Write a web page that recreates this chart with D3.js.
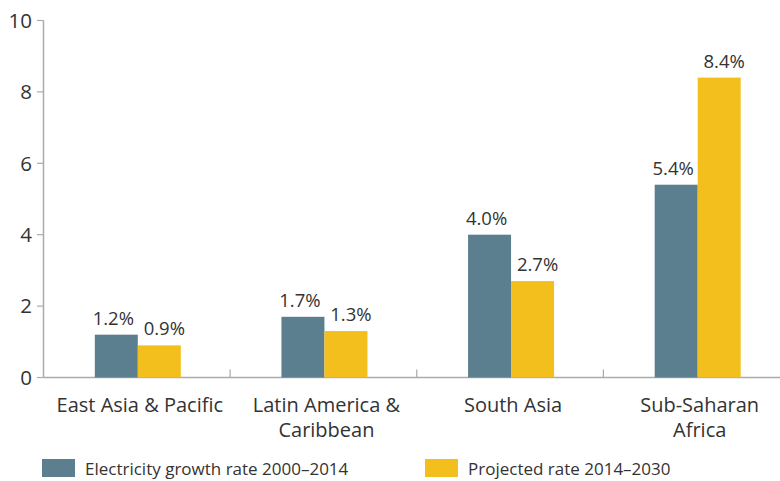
<!DOCTYPE html>
<html><head><meta charset="utf-8">
<script src="https://cdn.jsdelivr.net/npm/d3@7"></script>
<style>body{margin:0;background:#fff;} text{font-family:"Open Sans",Lato,sans-serif;fill:#333;}</style>
</head><body>
<svg id="c" width="780" height="481"></svg>
<script>
const categories = [["East Asia & Pacific"], ["Latin America &", "Caribbean"], ["South Asia"], ["Sub-Saharan", "Africa"]];
const seriesNames = ["Electricity growth rate 2000\u20132014", "Projected rate 2014\u20132030"];
const growth2000_2014 = [1.2, 1.7, 4.0, 5.4];
const projected2014_2030 = [0.9, 1.3, 2.7, 8.4];
const yTicks = [0, 2, 4, 6, 8, 10];
const colors = ["#5b7f8f", "#f2bf1c"];

const svg = d3.select("#c");
const x = d3.scaleBand().domain(d3.range(categories.length)).range([43.5, 790]);
const y = d3.scaleLinear().domain([0, 10]).range([377.5, 20.5]);
const bw = 43;
const series = [growth2000_2014, projected2014_2030];
const labelShift = [-3, 5];

// y axis
svg.append("line").attr("x1", 43.5).attr("x2", 43.5).attr("y1", y(10)).attr("y2", y(0)).attr("stroke", "#aaa").attr("stroke-width", 1.5);
yTicks.forEach(t => {
  svg.append("line").attr("x1", 37).attr("x2", 43.5).attr("y1", y(t)).attr("y2", y(t)).attr("stroke", "#aaa").attr("stroke-width", 1.2);
  svg.append("text").attr("x", 32).attr("y", y(t)).attr("dy", "0.36em").attr("text-anchor", "end").attr("font-size", 20.5).text(t);
});
// x axis
svg.append("line").attr("x1", 43.5).attr("x2", 780).attr("y1", y(0)).attr("y2", y(0)).attr("stroke", "#aaa").attr("stroke-width", 1.5);
for (let i = 1; i < categories.length; i++) {
  const xx = x(i);
  svg.append("line").attr("x1", xx).attr("x2", xx).attr("y1", y(0)).attr("y2", y(0) - 8).attr("stroke", "#aaa").attr("stroke-width", 1.2);
}
// bars
categories.forEach((c, i) => {
  const cx = x(i) + x.bandwidth() / 2;
  series.forEach((s, j) => {
    const x0 = cx - bw + j * bw + 1;
    svg.append("rect").attr("x", x0).attr("y", y(s[i])).attr("width", bw).attr("height", y(0) - y(s[i])).attr("fill", colors[j]);
    svg.append("text").attr("x", x0 + bw / 2 + labelShift[j]).attr("y", y(s[i]) - 10).attr("text-anchor", "middle").attr("font-size", 18.5).text(s[i].toFixed(1) + "%");
  });
  const t = svg.append("text").attr("x", cx + 3).attr("y", 412).attr("text-anchor", "middle").attr("font-size", 20);
  c.forEach((line, k) => t.append("tspan").attr("x", cx + 3).attr("dy", k === 0 ? 0 : 25).text(line));
});
// legend
const legX = [42, 425];
seriesNames.forEach((n, j) => {
  svg.append("rect").attr("x", legX[j]).attr("y", 459).attr("width", 33).attr("height", 18).attr("fill", colors[j]);
  svg.append("text").attr("x", legX[j] + 43).attr("y", 475).attr("font-size", 17).text(n);
});
</script>
</body></html>
